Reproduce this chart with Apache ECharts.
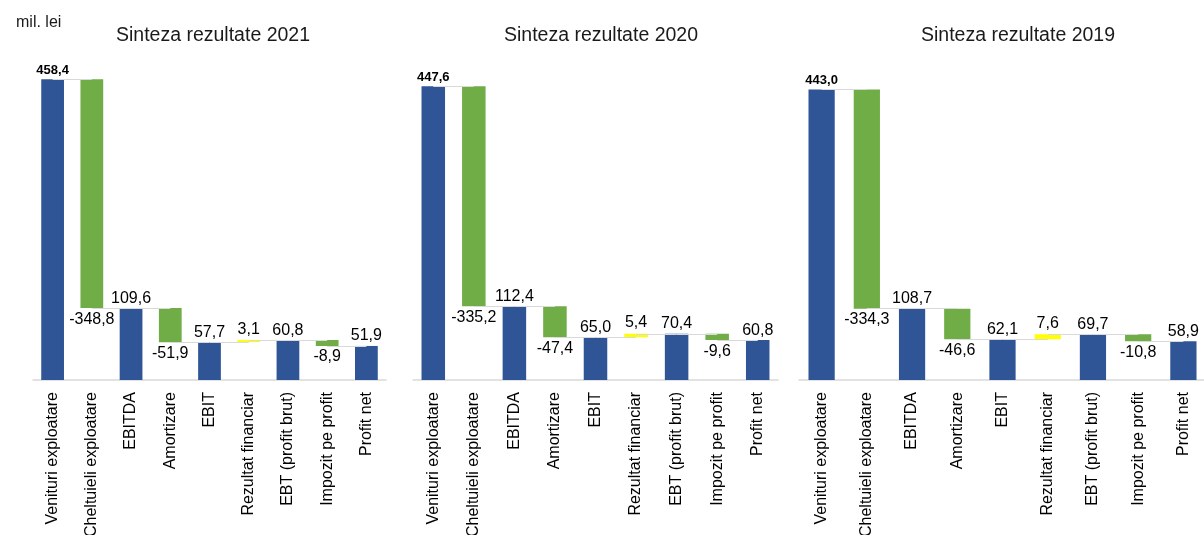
<!DOCTYPE html>
<html>
<head>
<meta charset="utf-8">
<script src="https://cdn.jsdelivr.net/npm/echarts@6/dist/echarts.min.js"></script>
<style>
html,body{margin:0;padding:0;background:#fff;}
#chart{width:1204px;height:535px;}
</style>
</head>
<body>
<div id="chart"></div>
<script>
const categories = ['Venituri exploatare','Cheltuieli exploatare','EBITDA','Amortizare','EBIT','Rezultat financiar','EBT (profit brut)','Impozit pe profit','Profit net'];
const barKinds = ['total','delta','total','delta','total','delta','total','delta','total'];
const values2021 = [458.4, -348.8, 109.6, -51.9, 57.7, 3.1, 60.8, -8.9, 51.9];
const values2020 = [447.6, -335.2, 112.4, -47.4, 65.0, 5.4, 70.4, -9.6, 60.8];
const values2019 = [443.0, -334.3, 108.7, -46.6, 62.1, 7.6, 69.7, -10.8, 58.9];
const chartTitles = ['Sinteza rezultate 2021','Sinteza rezultate 2020','Sinteza rezultate 2019'];
const unitLabel = 'mil. lei';
const yMax = 500;

const FONT = '"Liberation Sans", Arial, sans-serif';
const COLORS = {total:'#2F5597', neg:'#70AD47', pos:'#FFFF00'};
const fmt = v => v.toFixed(1).replace('.', ',');

const grids = [
  {left:33, width:353, top:52, height:328, outerBoundsMode:'none', containLabel:false},
  {left:413, width:365, top:52, height:328, outerBoundsMode:'none', containLabel:false},
  {left:799, width:407, top:52, height:328, outerBoundsMode:'none', containLabel:false}
];
const titleCenters = [208, 596, 1013];

function buildSeries(values, gi) {
  let level = 0;
  const base = [], vis = [], levels = [];
  values.forEach((v, i) => {
    const kind = barKinds[i];
    let b, h, color, pos;
    if (kind === 'total') {
      b = 0; h = v; level = v; color = COLORS.total; pos = 'top';
    } else {
      b = v < 0 ? level + v : level; h = Math.abs(v);
      level = level + v; color = v < 0 ? COLORS.neg : COLORS.pos; pos = v < 0 ? 'bottom' : 'top';
    }
    level = Math.round(level * 10) / 10;
    levels.push(level);
    base.push(Math.round(b * 10) / 10);
    vis.push({
      value: Math.round(h * 10) / 10,
      raw: v,
      itemStyle: {color: color, borderColor: color, borderWidth: kind === 'total' ? 0 : 1.5},
      label: {
        show: true, position: pos, distance: kind === 'total' ? 2 : 3,
        fontSize: i === 0 ? 13 : 16,
        fontWeight: i === 0 ? 'bold' : 'normal',
        color: '#000', fontFamily: FONT
      }
    });
  });
  const connectors = [];
  for (let i = 0; i < values.length - 1; i++) {
    connectors.push([{coord:[categories[i], levels[i]]}, {coord:[categories[i+1], levels[i]]}]);
  }
  return [
    {
      type:'bar', xAxisIndex:gi, yAxisIndex:gi, stack:'w'+gi, data:base,
      barWidth:'58%', z:1, silent:true,
      itemStyle:{color:'rgba(0,0,0,0)'},
      markLine:{
        silent:true, symbol:['none','none'], label:{show:false},
        lineStyle:{color:'#d9d9d9', width:1, type:'solid'},
        data: connectors, animation:false
      }
    },
    {
      type:'bar', xAxisIndex:gi, yAxisIndex:gi, stack:'w'+gi, data:vis,
      barWidth:'58%', z:3,
      label:{formatter: p => fmt(p.data.raw)}
    }
  ];
}

const allValues = [values2021, values2020, values2019];
const chart = echarts.init(document.getElementById('chart'), null, {renderer:'canvas'});
chart.setOption({
  animation:false,
  backgroundColor:'#fff',
  title: [
    {text: unitLabel, left: 11, top: 10, textStyle:{fontFamily:FONT, fontSize:16, fontWeight:'normal', color:'#1a1a1a'}}
  ].concat(chartTitles.map((t, i) => ({
    text: t, left: titleCenters[i], textAlign:'center', top: 21,
    textStyle:{fontFamily:FONT, fontSize:19.5, fontWeight:'normal', color:'#1a1a1a'}
  }))),
  grid: grids,
  xAxis: grids.map((g, i) => ({
    type:'category', gridIndex:i, data:categories,
    axisTick:{show:false},
    axisLine:{show:true, lineStyle:{color:'#d9d9d9', width:1.5}},
    axisLabel:{rotate:90, interval:0, margin:12, fontFamily:FONT, fontSize:16, color:'#000'}
  })),
  yAxis: grids.map((g, i) => ({
    type:'value', gridIndex:i, min:0, max:yMax, show:false, splitLine:{show:false}
  })),
  series: allValues.flatMap((v, i) => buildSeries(v, i))
});
</script>
</body>
</html>
